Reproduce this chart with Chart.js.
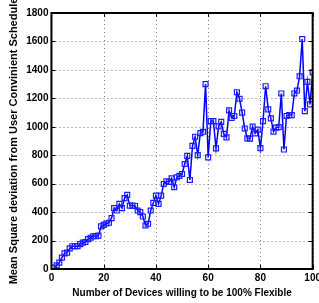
<!DOCTYPE html>
<html>
<head>
<meta charset="utf-8">
<script src="https://cdn.jsdelivr.net/npm/chart.js@4/dist/chart.umd.min.js"></script>
<style>
html,body{margin:0;padding:0;background:#fff;overflow:hidden;width:319px;height:303px;}
canvas{display:block;}
</style>
</head>
<body>
<canvas id="c" width="324" height="303"></canvas>
<script>
const devices = [];
for (let i = 1; i <= 100; i++) devices.push(i);
const deviation = [
  10, 25, 45, 80, 110, 115, 145, 160, 160, 160,
  175, 185, 190, 210, 220, 230, 230, 235, 300, 310,
  320, 325, 358, 428, 411, 458, 428, 498, 521, 446,
  446, 443, 411, 400, 369, 306, 318, 411, 465, 516,
  458, 516, 598, 617, 612, 638, 575, 645, 655, 668,
  738, 795, 626, 866, 930, 801, 955, 965, 1300, 785,
  1040, 1040, 848, 1003, 1034, 950, 925, 1115, 1062, 1076,
  1243, 1197, 1099, 988, 918, 917, 1001, 953, 980, 850,
  1040, 1285, 1122, 1059, 966, 994, 998, 1234, 840, 1076,
  1082, 1082, 1234, 1255, 1355, 1617, 1110, 1316, 1157, 1383
];
const xTicks = [0, 20, 40, 60, 80, 100];
const yTicks = [0, 200, 400, 600, 800, 1000, 1200, 1400, 1600, 1800];
const xTitle = "Number of Devices willing to be 100% Flexible";
const yTitle = "Mean Square deviation from User Convinient Schedule";

const FONT = "'Liberation Sans', Arial, sans-serif";

const gridPlugin = {
  id: 'dotgrid',
  beforeDatasetsDraw(chart) {
    const {ctx, chartArea: a, scales} = chart;
    ctx.save();
    ctx.strokeStyle = '#777';
    ctx.lineWidth = 1;
    ctx.setLineDash([1, 3]);
    ctx.beginPath();
    xTicks.forEach(v => {
      const px = Math.round(scales.x.getPixelForValue(v)) + 0.5;
      ctx.moveTo(px, a.bottom); ctx.lineTo(px, a.top);
    });
    yTicks.forEach(v => {
      const py = Math.round(scales.y.getPixelForValue(v)) + 0.5;
      ctx.moveTo(a.left, py); ctx.lineTo(a.right, py);
    });
    ctx.stroke();
    ctx.restore();
  }
};

const framePlugin = {
  id: 'frame',
  afterDatasetsDraw(chart) {
    const {ctx, chartArea: a, scales} = chart;
    ctx.save();
    ctx.strokeStyle = '#000';
    ctx.lineWidth = 1;
    const tl = 4;
    ctx.beginPath();
    xTicks.forEach(v => {
      const px = Math.round(scales.x.getPixelForValue(v)) + 0.5;
      ctx.moveTo(px, a.bottom); ctx.lineTo(px, a.bottom - tl);
      ctx.moveTo(px, a.top); ctx.lineTo(px, a.top + tl);
    });
    yTicks.forEach(v => {
      const py = Math.round(scales.y.getPixelForValue(v)) + 0.5;
      ctx.moveTo(a.left, py); ctx.lineTo(a.left + tl, py);
      ctx.moveTo(a.right, py); ctx.lineTo(a.right - tl, py);
    });
    ctx.stroke();
    ctx.lineWidth = 2;
    ctx.strokeRect(a.left, a.top, a.right - a.left, a.bottom - a.top);
    ctx.restore();
  }
};

new Chart(document.getElementById('c'), {
  type: 'line',
  data: {
    labels: devices,
    datasets: [{
      data: devices.map((d, i) => ({x: d, y: deviation[i]})),
      borderColor: '#0000ff',
      borderWidth: 1.5,
      pointStyle: 'rect',
      pointRadius: 3.5,
      pointBorderWidth: 1.2,
      pointBorderColor: '#1a1aff',
      pointBackgroundColor: 'rgba(0,0,0,0)',
      tension: 0,
      fill: false
    }]
  },
  options: {
    responsive: false,
    animation: false,
    events: [],
    layout: {padding: {left: 7, top: 13, right: 0, bottom: 4}},
    plugins: {legend: {display: false}, tooltip: {enabled: false}},
    scales: {
      x: {
        type: 'linear', min: 0, max: 100,
        afterBuildTicks: s => { s.ticks = xTicks.map(v => ({value: v})); },
        grid: {display: false, drawTicks: false},
        border: {display: false},
        ticks: {color: '#000', font: {family: FONT, size: 10, weight: 'bold'}, padding: 3, maxRotation: 0,
                callback: v => String(v)},
        title: {display: true, text: xTitle, color: '#000', font: {family: FONT, size: 10, weight: 'bold'}, padding: {top: 0, bottom: 0}}
      },
      y: {
        type: 'linear', min: 0, max: 1800,
        afterBuildTicks: s => { s.ticks = yTicks.map(v => ({value: v})); },
        grid: {display: false, drawTicks: false},
        border: {display: false},
        ticks: {color: '#000', font: {family: FONT, size: 10, weight: 'bold'}, padding: 3,
                callback: v => String(v)},
        title: {display: true, text: yTitle, color: '#000', font: {family: FONT, size: 11, weight: 'bold'}, padding: {top: 0, bottom: 3}}
      }
    }
  },
  plugins: [gridPlugin, framePlugin]
});
</script>
</body>
</html>
